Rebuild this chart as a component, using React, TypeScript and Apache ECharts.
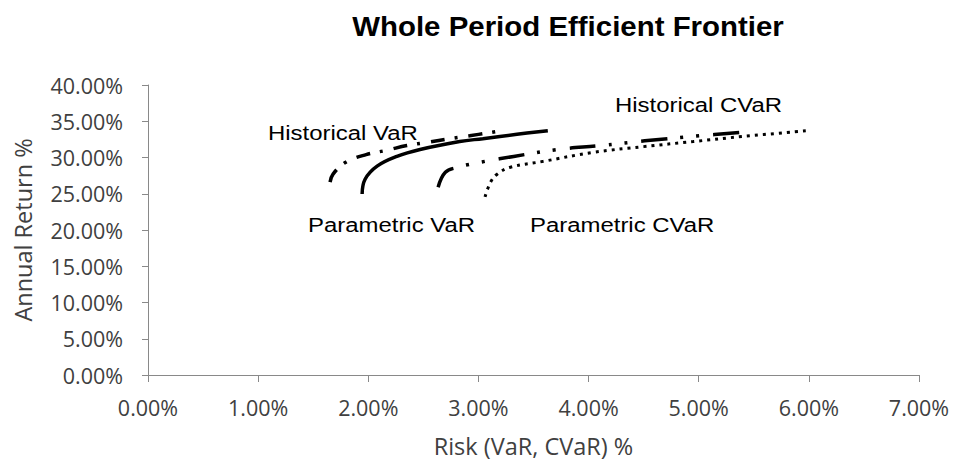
import React, { useEffect, useRef } from "react";
import * as echarts from "echarts";

// Risk (%) and annual return (%)
const parametricVaR: [number, number][] = [
  [1.944, 24.97], [1.971, 27.0], [2.08, 28.8], [2.26, 30.15], [2.47, 31.1],
  [2.83, 32.2], [3.04, 32.6], [3.35, 33.2], [3.63, 33.7],
];
const historicalVaR: [number, number][] = [
  [1.653, 26.6], [1.68, 27.7], [1.79, 29.3], [1.98, 30.4], [2.17, 31.0],
  [2.35, 31.65], [2.54, 32.1], [2.74, 32.6], [2.92, 33.0], [3.17, 33.6],
];
const historicalCVaR: [number, number][] = [
  [2.634, 25.9], [2.7, 27.97], [2.81, 28.65], [2.92, 29.06], [3.06, 29.47],
  [3.32, 30.15], [3.72, 31.1], [4.11, 31.65], [4.51, 32.3], [5.01, 33.0], [5.42, 33.5],
];
const parametricCVaR: [number, number][] = [
  [3.06, 24.56], [3.11, 26.6], [3.17, 27.7], [3.29, 28.65], [3.59, 29.47],
  [4.04, 30.7], [4.5, 31.5], [4.95, 32.2], [5.4, 32.9], [5.99, 33.7],
];

const titleText = "Whole Period Efficient Frontier";
const xAxisTitle = "Risk (VaR, CVaR) %";
const yAxisTitle = "Annual Return %";
const curveLabels = ["Historical VaR", "Parametric VaR", "Parametric CVaR", "Historical CVaR"];

const fmt = (v: number) => v.toFixed(2) + "%";

export default function App() {
  const ref = useRef<HTMLDivElement>(null);
  useEffect(() => {
    document.body.style.margin = "0";
    const chart = echarts.init(ref.current!, null, { renderer: "svg" });
    const axisGray = "#898989";
    const labelGray = "#404040";
    const sans = "'Open Sans', sans-serif";
    const arial = "'Liberation Sans', Arial, sans-serif";
    const labelStyle = (text: string) => ({
      text,
      x: 0,
      y: 0,
      fill: "#000",
      font: `21px ${arial}`,
      textVerticalAlign: "middle",
      textAlign: "left",
    });
    chart.setOption({
      animation: false,
      backgroundColor: "#fff",
      grid: { left: 148, right: 37, top: 85, bottom: 85, containLabel: false },
      xAxis: {
        type: "value",
        min: 0,
        max: 7,
        interval: 1,
        name: xAxisTitle,
        nameLocation: "middle",
        nameGap: 59,
        nameTextStyle: { color: labelGray, fontFamily: sans, fontSize: 23.5 },
        axisLine: { show: true, onZero: false, lineStyle: { color: axisGray, width: 1 } },
        axisTick: { show: true, length: 7, lineStyle: { color: axisGray } },
        axisLabel: { color: labelGray, fontFamily: sans, fontSize: 21.5, margin: 21, formatter: fmt },
        splitLine: { show: false },
      },
      yAxis: {
        type: "value",
        min: 0,
        max: 40,
        interval: 5,
        name: yAxisTitle,
        nameLocation: "middle",
        nameGap: 113,
        nameTextStyle: { color: labelGray, fontFamily: sans, fontSize: 23.5 },
        axisLine: { show: true, onZero: false, lineStyle: { color: axisGray, width: 1 } },
        axisTick: { show: true, length: 6, lineStyle: { color: axisGray } },
        axisLabel: { color: labelGray, fontFamily: sans, fontSize: 21.5, margin: 25, formatter: fmt },
        splitLine: { show: false },
      },
      series: [
        {
          name: curveLabels[0],
          type: "line",
          data: historicalVaR,
          showSymbol: false,
          smooth: 0.4,
          lineStyle: { color: "#000", width: 3.5, type: [14, 10, 3, 11] },
        },
        {
          name: curveLabels[1],
          type: "line",
          data: parametricVaR,
          showSymbol: false,
          smooth: 0.4,
          lineStyle: { color: "#000", width: 3.5, type: "solid" },
        },
        {
          name: curveLabels[2],
          type: "line",
          data: parametricCVaR,
          showSymbol: false,
          smooth: 0.4,
          lineStyle: { color: "#000", width: 3, type: [3, 5] },
        },
        {
          name: curveLabels[3],
          type: "line",
          data: historicalCVaR,
          showSymbol: false,
          smooth: 0.4,
          lineStyle: { color: "#000", width: 3.5, type: [26, 13, 3, 13, 3, 14] },
        },
      ],
      graphic: [
        {
          type: "text",
          x: 568,
          y: 26,
          scaleX: 1.09,
          style: {
            text: titleText,
            x: 0,
            y: 0,
            fill: "#000",
            font: `bold 27px ${arial}`,
            textAlign: "center",
            textVerticalAlign: "middle",
          },
        },
        { type: "text", x: 268, y: 133, scaleX: 1.14, style: labelStyle(curveLabels[0]) },
        { type: "text", x: 308, y: 225, scaleX: 1.14, style: labelStyle(curveLabels[1]) },
        { type: "text", x: 530, y: 225, scaleX: 1.14, style: labelStyle(curveLabels[2]) },
        { type: "text", x: 615, y: 105, scaleX: 1.14, style: labelStyle(curveLabels[3]) },
      ],
    });
    return () => chart.dispose();
  }, []);
  return <div ref={ref} style={{ width: 956, height: 463 }} />;
}
